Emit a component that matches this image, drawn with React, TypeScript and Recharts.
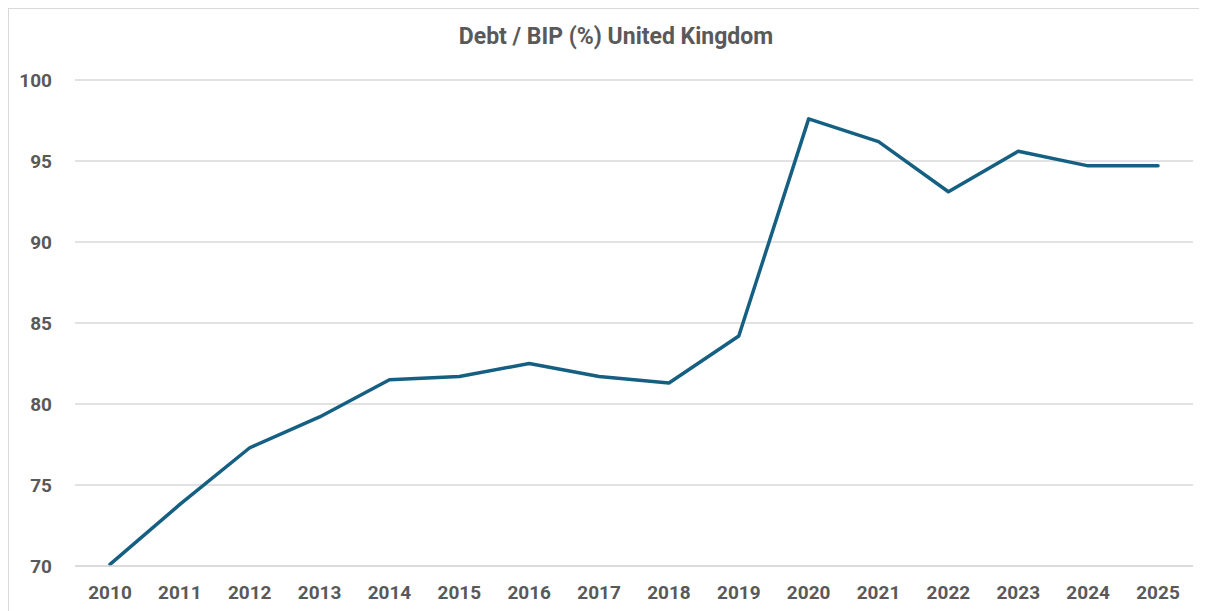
import { LineChart, Line, XAxis, YAxis, CartesianGrid } from 'recharts'

const years = ['2010', '2011', '2012', '2013', '2014', '2015', '2016', '2017', '2018', '2019', '2020', '2021', '2022', '2023', '2024', '2025']
const debtRatio = [70.1, 73.8, 77.3, 79.2, 81.5, 81.7, 82.5, 81.7, 81.3, 84.2, 97.6, 96.2, 93.1, 95.6, 94.7, 94.7]
const yTicks = [70, 75, 80, 85, 90, 95, 100]

const data = years.map((year, i) => ({ year, value: debtRatio[i] }))

const FONT = 'Roboto, "Open Sans", sans-serif'
const GREY = '#595959'

export default function App() {
  return (
    <div
      style={{
        position: 'relative',
        width: 1190,
        height: 620,
        border: '1px solid #d9d9d9',
        background: '#fff',
        fontFamily: FONT
      }}
    >
      <div
        style={{
          position: 'absolute',
          top: 14,
          left: 12,
          width: '100%',
          textAlign: 'center',
          fontSize: 23,
          fontWeight: 700,
          color: GREY
        }}
      >
        Debt / BIP (%) United Kingdom
      </div>
      <LineChart
        width={1190}
        height={620}
        data={data}
        margin={{ top: 71, right: 6, bottom: 33, left: 0 }}
      >
        <CartesianGrid vertical={false} stroke="#d9d9d9" strokeWidth={1.3} />
        <XAxis
          dataKey="year"
          axisLine={{ stroke: '#d9d9d9', strokeWidth: 1.3 }}
          tickLine={false}
          tickMargin={14}
          height={30}
          padding={{ left: 35, right: 35 }}
          interval={0}
          tick={{ fill: GREY, fontSize: 19, fontWeight: 700, fontFamily: FONT }}
        />
        <YAxis
          domain={[70, 100]}
          ticks={yTicks}
          width={66}
          axisLine={false}
          tickLine={false}
          tickMargin={17}
          interval={0}
          tick={{ fill: GREY, fontSize: 19, fontWeight: 700, fontFamily: FONT }}
        />
        <Line
          type="linear"
          dataKey="value"
          stroke="#156082"
          strokeWidth={3.5}
          strokeLinecap="round"
          strokeLinejoin="round"
          dot={false}
          activeDot={false}
          isAnimationActive={false}
        />
      </LineChart>
    </div>
  )
}
